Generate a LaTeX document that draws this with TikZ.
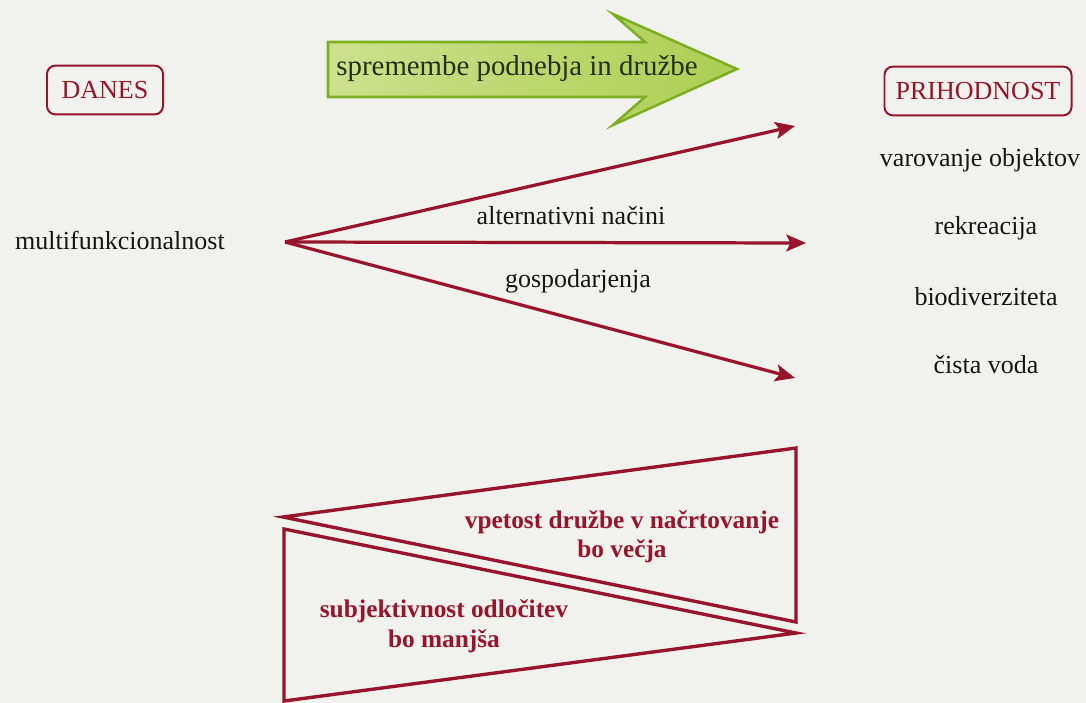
\documentclass[tikz,border=0pt]{standalone}
\usepackage{fontspec}
\setmainfont{Liberation Serif}
\newfontfamily\timesfont{Liberation Serif}
\usetikzlibrary{arrows.meta, positioning, calc}
\definecolor{cBack}{RGB}{241, 241, 237}
\definecolor{bRed}{RGB}{152, 20, 42}
\definecolor{cGreenL}{RGB}{206, 224, 142}
\definecolor{cGreenR}{RGB}{172, 206, 82}
\definecolor{bGreen}{RGB}{124, 176, 32}
\definecolor{tDark}{RGB}{22, 22, 22}
\definecolor{tGreen}{RGB}{36, 48, 18}

\begin{document}
\begin{tikzpicture}[
    x=0.025cm, y=-0.025cm,
    font=\timesfont\fontsize{18.5}{22}\selectfont,
    >={Stealth[length=14pt, width=12pt, inset=3pt]},
    block/.style={
        draw=bRed,
        line width=1.4pt,
        rounded corners=6pt,
        text=bRed,
        minimum height=1.22cm,
        inner sep=4pt
    },
    arrow/.style={->, line width=2.3pt, color=bRed},
    wedge/.style={draw=bRed, line width=2.4pt, line join=miter},
    item/.style={text=tDark, inner sep=2pt},
    note/.style={text=bRed, font=\timesfont\fontsize{18}{21}\selectfont\bfseries, align=center}
]

% page
\fill[cBack] (0,0) rectangle (1086,703);
\useasboundingbox (0,0) rectangle (1086,703);

% big green arrow
\path[left color=cGreenL, right color=cGreenR, draw=bGreen, line width=1.8pt, line join=miter]
    (328,42) -- (645,42) -- (613,14) -- (737,69) -- (613,125) -- (645,97) -- (328,97) -- cycle;
\node[text=tGreen, font=\timesfont\fontsize{20.5}{24}\selectfont] (change) at (517,69) {spremembe podnebja in družbe};

% time labels
\node[block, minimum width=2.9cm] (today) at (105,90) {DANES};
\node[block, minimum width=4.675cm] (future) at (978,91) {PRIHODNOST};

% left side
\node[item] (multi) at (120,240) {multifunkcionalnost};
\coordinate (fork) at (285,242);

% right side
\node[item] (obj) at (980,160) {varovanje objektov};
\node[item] (rec) at (986,228) {rekreacija};
\node[item] (bio) at (986,297) {biodiverziteta};
\node[item] (water) at (986,365) {čista voda};

\coordinate (endA) at (795,126);
\coordinate (endB) at (806,243);
\coordinate (endC) at (795,378);

\draw[arrow] (fork) -- (endA);
\draw[arrow] (fork) -- (endB);
\draw[arrow] (fork) -- (endC);

\node[item] (alt) at (571,216) {alternativni načini};
\node[item] (man) at (578,281) {gospodarjenja};

% wedges
\draw[wedge] (283,517) -- (796,448) -- (796,622) -- cycle;
\draw[wedge] (284,529) -- (796,633) -- (284,701) -- cycle;

\node[note] (more) at (622,537) {vpetost družbe v načrtovanje\\bo večja};
\node[note] (less) at (444,626) {subjektivnost odločitev\\bo manjša};

\end{tikzpicture}
\end{document}
